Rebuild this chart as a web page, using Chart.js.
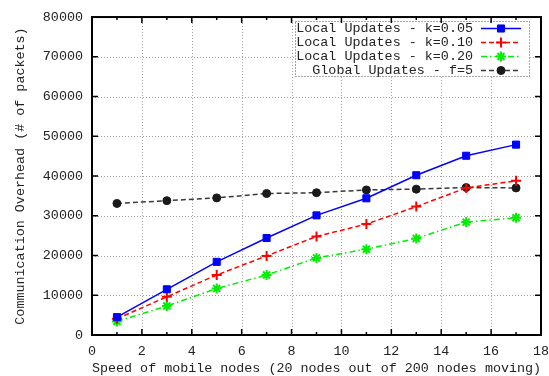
<!DOCTYPE html>
<html>
<head>
<meta charset="utf-8">
<script src="https://cdn.jsdelivr.net/npm/chart.js@4.4.1/dist/chart.umd.min.js"></script>
<style>
  html, body { margin: 0; padding: 0; background: #fff; }
  #wrap { width: 549px; height: 376px; }
</style>
</head>
<body>
<div id="wrap"><canvas id="chart"></canvas></div>
<script>
// values
const speeds = [1, 3, 5, 7, 9, 11, 13, 15, 17];
const localK005 = [4500, 11500, 18400, 24400, 30100, 34400, 40200, 45100, 47900];
const localK010 = [4100, 9600, 15100, 19900, 24800, 27900, 32300, 37000, 38800];
const localK020 = [3400, 7300, 11700, 15100, 19400, 21600, 24300, 28400, 29500];
const globalF5 = [33100, 33800, 34500, 35600, 35800, 36500, 36700, 37100, 37000];

const seriesNames = ["Local Updates - k=0.05", "Local Updates - k=0.10", "Local Updates - k=0.20", "Global Updates - f=5"];
const xTickValues = [0, 2, 4, 6, 8, 10, 12, 14, 16, 18];
const yTickValues = [0, 10000, 20000, 30000, 40000, 50000, 60000, 70000, 80000];

const monoFont = "'Liberation Mono', 'DejaVu Sans Mono', monospace";

function toPoints(vals) {
    return speeds.map((s, i) => ({ x: s, y: vals[i] }));
}

// grid, frame and inward ticks like gnuplot
const framePlugin = {
    id: "frame",
    beforeDatasetsDraw(chart) {
        const { ctx, chartArea: a, scales: { x, y } } = chart;
        ctx.save();
        ctx.strokeStyle = "#a0a0a0";
        ctx.lineWidth = 1;
        ctx.setLineDash([1, 2]);
        xTickValues.forEach(v => {
            if (v <= 0 || v >= 18) return;
            const px = Math.round(x.getPixelForValue(v)) + 0.5;
            ctx.beginPath(); ctx.moveTo(px, a.top); ctx.lineTo(px, a.bottom); ctx.stroke();
        });
        yTickValues.forEach(v => {
            if (v <= 0 || v >= 80000) return;
            const py = Math.round(y.getPixelForValue(v)) + 0.5;
            ctx.beginPath(); ctx.moveTo(a.left, py); ctx.lineTo(a.right, py); ctx.stroke();
        });
        ctx.restore();
    },
    afterDraw(chart) {
        const { ctx, chartArea: a, scales: { x, y } } = chart;
        ctx.save();
        ctx.strokeStyle = "#000";
        ctx.lineWidth = 2;
        ctx.strokeRect(a.left, a.top, a.right - a.left, a.bottom - a.top);
        ctx.lineWidth = 1.5;
        // x major + minor ticks
        for (let v = 1; v < 18; v++) {
            const len = v % 2 === 0 ? 6 : 3;
            const px = x.getPixelForValue(v);
            ctx.beginPath();
            ctx.moveTo(px, a.bottom); ctx.lineTo(px, a.bottom - len);
            ctx.moveTo(px, a.top); ctx.lineTo(px, a.top + len);
            ctx.stroke();
        }
        yTickValues.forEach(v => {
            if (v <= 0 || v >= 80000) return;
            const py = y.getPixelForValue(v);
            ctx.beginPath();
            ctx.moveTo(a.left, py); ctx.lineTo(a.left + 6, py);
            ctx.moveTo(a.right, py); ctx.lineTo(a.right - 6, py);
            ctx.stroke();
        });
        ctx.restore();
    }
};

// gnuplot style key: text right-aligned, sample to the right
const keyPlugin = {
    id: "key",
    afterDatasetsDraw(chart) {
        const { ctx } = chart;
        const box = { left: 295, top: 21, right: 529, bottom: 76 };
        ctx.save();
        ctx.fillStyle = "#fff";
        ctx.fillRect(box.left, box.top, box.right - box.left, box.bottom - box.top);
        ctx.strokeStyle = "#555";
        ctx.lineWidth = 1;
        ctx.setLineDash([1, 2]);
        ctx.strokeRect(box.left + 0.5, box.top + 0.5, box.right - box.left, box.bottom - box.top);
        ctx.font = "13.4px " + monoFont;
        ctx.textAlign = "right";
        ctx.textBaseline = "middle";
        chart.data.datasets.forEach((ds, i) => {
            const ty = 28.5 + i * 14;
            ctx.fillStyle = "#222";
            ctx.setLineDash([]);
            ctx.fillText(ds.label, 473, ty);
            ctx.strokeStyle = ds.borderColor;
            ctx.lineWidth = ds.borderWidth;
            ctx.setLineDash(ds.borderDash || []);
            ctx.beginPath(); ctx.moveTo(481, ty); ctx.lineTo(521, ty); ctx.stroke();
            ctx.setLineDash([]);
            ctx.fillStyle = ds.pointBackgroundColor;
            ctx.strokeStyle = ds.pointBorderColor;
            ctx.lineWidth = ds.pointBorderWidth;
            Chart.helpers.drawPoint(ctx, {
                pointStyle: ds.pointStyle,
                radius: ds.pointRadius,
                borderWidth: ds.pointBorderWidth
            }, 501, ty);
        });
        ctx.restore();
    }
};

new Chart(document.getElementById("chart"), {
    type: "line",
    data: {
        datasets: [
            {
                label: seriesNames[0],
                data: toPoints(localK005),
                borderColor: "#0000ff",
                borderWidth: 1.5,
                pointStyle: "rect",
                pointRadius: 5,
                pointBackgroundColor: "#0000ff",
                pointBorderColor: "#0000ff",
                pointBorderWidth: 1
            },
            {
                label: seriesNames[1],
                data: toPoints(localK010),
                borderColor: "#ff0000",
                borderWidth: 1.5,
                borderDash: [5, 3],
                pointStyle: "cross",
                pointRadius: 5,
                pointBackgroundColor: "#ff0000",
                pointBorderColor: "#ff0000",
                pointBorderWidth: 2
            },
            {
                label: seriesNames[2],
                data: toPoints(localK020),
                borderColor: "#00ee00",
                borderWidth: 1.5,
                borderDash: [6, 3, 1.5, 3],
                pointStyle: "star",
                pointRadius: 5,
                pointBackgroundColor: "#00ee00",
                pointBorderColor: "#00ee00",
                pointBorderWidth: 2
            },
            {
                label: seriesNames[3],
                data: toPoints(globalF5),
                borderColor: "#3a3a3a",
                borderWidth: 1.5,
                borderDash: [5, 3],
                pointStyle: "circle",
                pointRadius: 4,
                pointBackgroundColor: "#1a1a1a",
                pointBorderColor: "#1a1a1a",
                pointBorderWidth: 1
            }
        ]
    },
    options: {
        responsive: true,
        maintainAspectRatio: false,
        animation: false,
        layout: { padding: { top: 14, right: 0, left: 0, bottom: 0 } },
        plugins: { legend: { display: false }, tooltip: { enabled: false } },
        scales: {
            x: {
                type: "linear",
                min: 0,
                max: 18,
                grid: { display: false, drawTicks: false },
                border: { display: false },
                afterFit(scale) { scale.height = 41; scale.paddingRight = 8; },
                afterBuildTicks(scale) { scale.ticks = xTickValues.map(v => ({ value: v })); },
                ticks: {
                    padding: 8,
                    color: "#222",
                    maxRotation: 0,
                    font: { family: monoFont, size: 13.4 }
                },
                title: {
                    display: true,
                    text: "Speed of mobile nodes (20 nodes out of 200 nodes moving)",
                    color: "#222",
                    padding: { top: 2, bottom: 0 },
                    font: { family: monoFont, size: 13.4 }
                }
            },
            y: {
                min: 0,
                max: 80000,
                grid: { display: false, drawTicks: false },
                border: { display: false },
                afterFit(scale) { scale.width = 92; },
                afterBuildTicks(scale) { scale.ticks = yTickValues.map(v => ({ value: v })); },
                ticks: {
                    padding: 9,
                    color: "#222",
                    font: { family: monoFont, size: 13.4 },
                    callback: v => String(v)
                },
                title: {
                    display: true,
                    text: "Communication Overhead (# of packets)",
                    color: "#222",
                    padding: { top: 12, bottom: 0 },
                    font: { family: monoFont, size: 13.4 }
                }
            }
        }
    },
    plugins: [framePlugin, keyPlugin]
});
</script>
</body>
</html>
